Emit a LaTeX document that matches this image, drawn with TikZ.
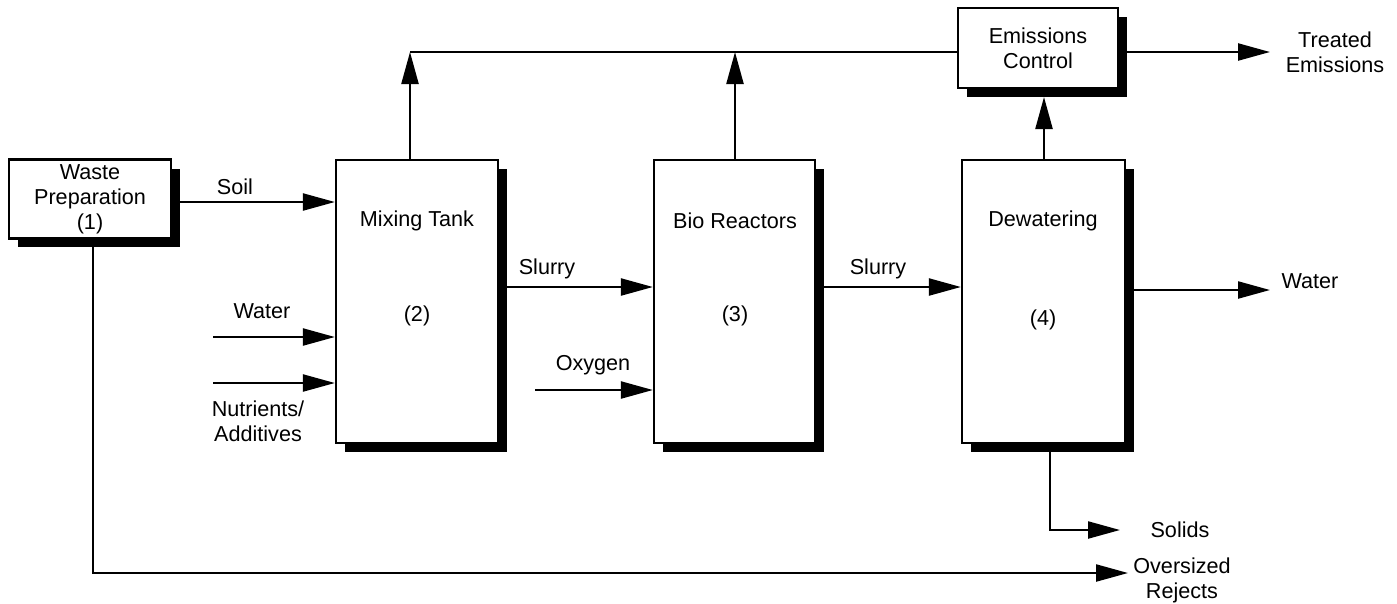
\documentclass[tikz,border=0pt]{standalone}
\usepackage{fontspec}
\setmainfont{Liberation Sans}
\usetikzlibrary{arrows.meta}
\begin{document}
\begin{tikzpicture}[x=0.02cm,y=-0.02cm,
  font=\fontsize{12.3}{14.2}\selectfont,
  box/.style={draw,line width=1.3pt,fill=white,inner sep=0pt,
    preaction={fill=black,transform canvas={xshift=0.18cm,yshift=-0.18cm}}},
  lbl/.style={align=center,inner sep=0pt},
  arr/.style={line width=1.3pt,-{Triangle[length=0.64cm,width=0.34cm]}},
  ln/.style={line width=1.3pt}]
\useasboundingbox (0,0) rectangle (1397,603);
% boxes
\node[box,minimum width=3.24cm,minimum height=1.58cm] (wp) at (90,199) {};
\node[lbl] (wpt) at (wp.center) {Waste\\Preparation\\(1)};
\node[box,minimum width=3.24cm,minimum height=5.66cm] (mix) at (417,301.5) {};
\node[box,minimum width=3.22cm,minimum height=5.66cm] (bio) at (734.5,301.5) {};
\node[box,minimum width=3.26cm,minimum height=5.66cm] (dw) at (1043.5,301.5) {};
\node[box,minimum width=3.2cm,minimum height=1.6cm] (ec) at (1038,48) {};
\node[lbl] (ect) at (ec.center) {Emissions\\Control};
\node[lbl] (mixt) at (417,221) {Mixing Tank};
\node[lbl] (mixn) at (417,316) {(2)};
\node[lbl] (biot) at (735,221) {Bio Reactors};
\node[lbl] (bion) at (735,316) {(3)};
\node[lbl] (dwt) at (1043,221) {Dewatering};
\node[lbl] (dwn) at (1043,320) {(4)};
% coordinates
\coordinate (j1) at (410,52);
\coordinate (j2) at (735,52);
\coordinate (ecb) at (1044,97);
\coordinate (soil) at (0,202);
\coordinate (sl) at (0,287);
\coordinate (wo) at (0,290);
\coordinate (win) at (213,337);
\coordinate (nin) at (213,383);
\coordinate (oin) at (535,390);
\coordinate (teo) at (1270,52);
\coordinate (woo) at (1270,290);
\coordinate (sol1) at (1050,530);
\coordinate (sol2) at (1120,530);
\coordinate (ov1) at (93,573);
\coordinate (ov2) at (1128,573);
% connectors
\draw[arr] (wp.east |- soil) -- (mix.west |- soil);
\draw[arr] (j1 |- mix.north) -- (j1);
\draw[arr] (j2 |- bio.north) -- (j2);
\draw[ln] (j1) -- (ec.west |- j1);
\draw[arr] (ecb |- dw.north) -- (ecb);
\draw[arr] (ec.east |- teo) -- (teo);
\draw[arr] (mix.east |- sl) -- (bio.west |- sl);
\draw[arr] (bio.east |- sl) -- (dw.west |- sl);
\draw[arr] (dw.east |- wo) -- (woo);
\draw[arr] (win) -- (mix.west |- win);
\draw[arr] (nin) -- (mix.west |- nin);
\draw[arr] (oin) -- (bio.west |- oin);
\draw[arr] (sol1 |- dw.south) -- (sol1) -- (sol2);
\draw[arr] (ov1 |- wp.south) -- (ov1) -- (ov2);
% labels
\node[lbl] (l1) at (235,187) {Soil};
\node[lbl] (l2) at (547,269) {Slurry};
\node[lbl] (l3) at (878,269) {Slurry};
\node[lbl] (l4) at (262,311) {Water};
\node[lbl] (l5) at (258,421) {Nutrients/\\Additives};
\node[lbl] (l6) at (593,365) {Oxygen};
\node[lbl] (l7) at (1310,281) {Water};
\node[lbl] (l8) at (1180,530) {Solids};
\node[lbl] (l9) at (1182,580) {Oversized\\Rejects};
\node[lbl] (l10) at (1335,52) {Treated\\Emissions};
\end{tikzpicture}
\end{document}
